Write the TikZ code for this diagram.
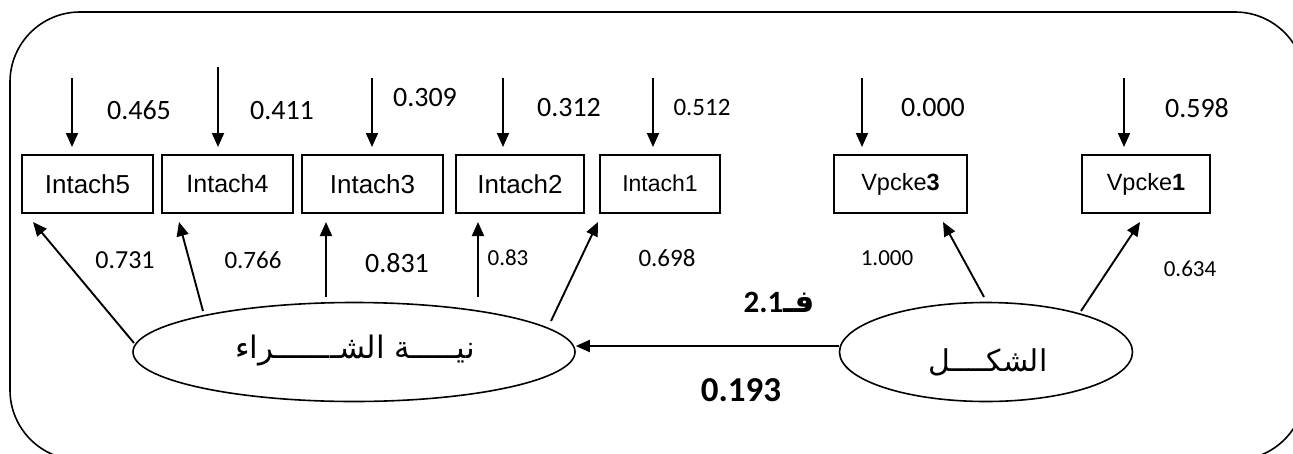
\documentclass[tikz,border=0pt]{standalone}
\usepackage{fontspec}
\setmainfont{Carlito}
\newfontfamily\arialf{Liberation Sans}
\newfontfamily\arabicfont[Script=Arabic]{DejaVu Sans}
\TeXXeTstate=1
\usetikzlibrary{arrows.meta,shapes.geometric}
\begin{document}
\begin{tikzpicture}[x=1pt,y=-1pt,
  arr/.style={line width=1.9pt,-{Triangle[length=14pt,width=12pt]}},
  obs/.style={draw,line width=1.3pt,minimum height=58pt,inner sep=0pt,font=\arialf\fontsize{26}{30}\selectfont},
  lat/.style={draw,ellipse,line width=1.6pt,inner sep=0pt,minimum height=99pt},
  num/.style={inner sep=0pt,anchor=center}]
\useasboundingbox (0,0) rectangle (1293,453);
\begin{scope}
\clip (0,0) rectangle (1293,453);
\draw[line width=1.6pt,rounded corners=70pt] (10,12) rectangle (1305,460);
\end{scope}
% observed variables
\node[obs,minimum width=131pt] (I5) at (87.5,184) {Intach5};
\node[obs,minimum width=131pt] (I4) at (227.5,184) {\fontsize{25}{29}\selectfont Intach4};
\node[obs,minimum width=141pt] (I3) at (372.5,184) {Intach3};
\node[obs,minimum width=128pt] (I2) at (520,184) {Intach2};
\node[obs,minimum width=120pt] (I1) at (660,184) {\raisebox{2pt}{\fontsize{23}{27}\selectfont Intach1}};
\node[obs,minimum width=133pt] (V3) at (900.5,184) {\raisebox{2pt}{\fontsize{23.5}{27}\selectfont Vpcke\textbf{3}}};
\node[obs,minimum width=128pt] (V1) at (1146,184) {\raisebox{2pt}{\fontsize{23.5}{27}\selectfont Vpcke\textbf{1}}};
% latent variables
\node[lat,minimum width=442pt] (L) at (354,352) {};
\node[lat,minimum width=293pt] (R) at (986,352) {};
\node[num] (Lt) at (355,351) {\arabicfont\fontsize{31}{36}\selectfont\beginR نيـــــة الشـــــــراء\endR};
\node[num] (Rt) at (988,362) {\arabicfont\fontsize{30}{36}\selectfont\beginR الشكــــل\endR};
% error arrows
\coordinate (e5) at (72,78);  \coordinate (f5) at (72,147);
\coordinate (e4) at (218,67); \coordinate (f4) at (218,147);
\coordinate (e3) at (372,78); \coordinate (f3) at (372,147);
\coordinate (e2) at (503,78); \coordinate (f2) at (503,147);
\coordinate (e1) at (653,78); \coordinate (f1) at (653,147);
\coordinate (ev3) at (862,78); \coordinate (fv3) at (862,147);
\coordinate (ev1) at (1124,78); \coordinate (fv1) at (1124,147);
\foreach \a/\b in {e5/f5,e4/f4,e3/f3,e2/f2,e1/f1,ev3/fv3,ev1/fv1}
  \draw[arr] (\a) -- (\b);
% loading arrows
\coordinate (s5) at (134,343); \coordinate (t5) at (33,222);
\coordinate (s4) at (203,311); \coordinate (t4) at (179,222);
\coordinate (s3) at (326,297); \coordinate (t3) at (326,222);
\coordinate (s2) at (478,297); \coordinate (t2) at (478,222);
\coordinate (s1) at (551,321); \coordinate (t1) at (598,222);
\coordinate (sv3) at (984,297); \coordinate (tv3) at (943,222);
\coordinate (sv1) at (1081,311); \coordinate (tv1) at (1140,222);
\foreach \a/\b in {s5/t5,s4/t4,s3/t3,s2/t2,s1/t1,sv3/tv3,sv1/tv1}
  \draw[arr] (\a) -- (\b);
% structural path
\draw[arr] ([yshift=6pt]R.west) -- ([yshift=6pt]L.east);
% error labels
\node[num,font=\fontsize{28}{32}\selectfont] (n465) at (139,110) {0.465};
\node[num,font=\fontsize{28}{32}\selectfont] (n411) at (282,111) {0.411};
\node[num,font=\fontsize{28}{32}\selectfont] (n309) at (425,98) {0.309};
\node[num,font=\fontsize{28}{32}\selectfont] (n312) at (569,108) {0.312};
\node[num,font=\fontsize{25}{30}\selectfont] (n512) at (702,107) {0.512};
\node[num,font=\fontsize{28}{32}\selectfont] (n000) at (933,108) {0.000};
\node[num,font=\fontsize{28}{32}\selectfont] (n598) at (1197,108) {0.598};
% loading labels
\node[num,font=\fontsize{26}{30}\selectfont] (n731) at (125,260) {0.731};
\node[num,font=\fontsize{25}{30}\selectfont] (n766) at (253,260) {0.766};
\node[num,font=\fontsize{28}{32}\selectfont] (n831) at (397,263) {0.831};
\node[num,font=\fontsize{23}{27}\selectfont] (n83) at (508,258) {0.83};
\node[num,font=\fontsize{25}{30}\selectfont] (n698) at (667,258) {0.698};
\node[num,font=\fontsize{23}{27}\selectfont] (n1000) at (887,258) {1.000};
\node[num,font=\fontsize{23}{27}\selectfont] (n634) at (1190,269) {0.634};
% path labels
\node[num] (f21) at (779,302) {\fontsize{31}{36}\selectfont\bfseries\beginR{\arabicfont فـ}\beginL 2.1\endL\endR};
\node[num,font=\fontsize{35}{40}\selectfont\bfseries] (n193) at (741,390) {0.193};
\end{tikzpicture}
\end{document}
